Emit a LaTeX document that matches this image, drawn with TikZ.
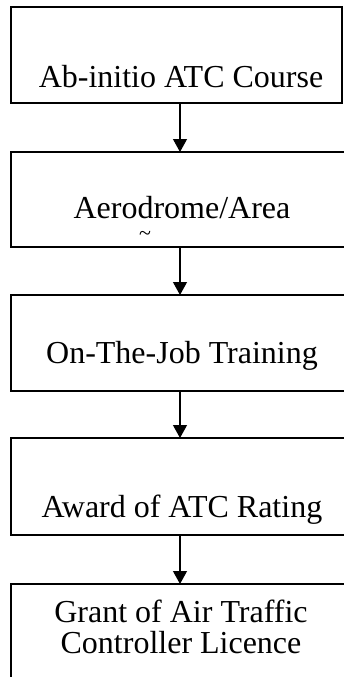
\documentclass[tikz,border=0pt]{standalone}
\usepackage{fontspec}
\setmainfont{Liberation Serif}
\usetikzlibrary{arrows.meta}

\begin{document}
\begin{tikzpicture}[x=1pt,y=-1pt,
  box/.style={draw, line width=1.2pt, rectangle, anchor=north west, inner sep=0pt, outer sep=0pt},
  label/.style={anchor=base, inner sep=0pt, font=\fontsize{32}{31}\selectfont},
  arr/.style={line width=1.2pt, -{Triangle[width=14pt,length=13pt]}}]
  \useasboundingbox (0,0) rectangle (343,677);
  \coordinate (axis) at (180,0);

  \node[box, minimum width=331pt, minimum height=96pt] (course) at (11,7) {};
  \node[box, minimum width=334pt, minimum height=95pt] (area) at (11,152) {};
  \node[box, minimum width=334pt, minimum height=96pt] (ojt) at (11,295) {};
  \node[box, minimum width=334pt, minimum height=97pt] (rating) at (11,438) {};
  \node[box, minimum width=334pt, minimum height=110pt] (licence) at (11,584) {};

  \node[label] (coursetext) at (181,88) {Ab-initio ATC Course};
  \node[label] (areatext) at (182,218) {Aerodrome/Area};
  \node[inner sep=0pt, font=\fontsize{22}{22}\selectfont] (tilde) at (145,236) {\textasciitilde};
  \node[label] (ojttext) at (182,363) {On-The-Job Training};
  \node[label] (ratingtext) at (182,517) {Award of ATC Rating};
  \node[label, align=center] (licencetext) at (181,653) {Grant of Air Traffic\\Controller Licence};

  \draw[arr] (course.south -| axis) -- (area.north -| axis);
  \draw[arr] (area.south -| axis) -- (ojt.north -| axis);
  \draw[arr] (ojt.south -| axis) -- (rating.north -| axis);
  \draw[arr] (rating.south -| axis) -- (licence.north -| axis);
\end{tikzpicture}
\end{document}
